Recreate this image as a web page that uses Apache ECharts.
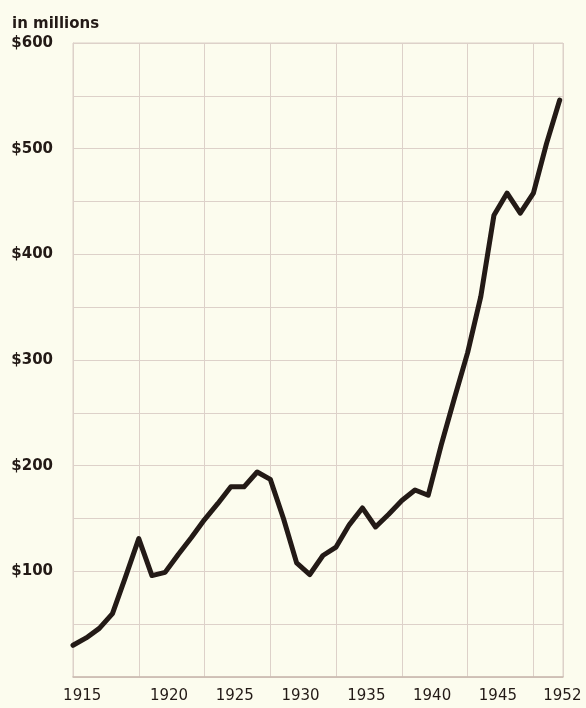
<!DOCTYPE html>
<html>
<head>
<meta charset="utf-8">
<script src="https://cdn.jsdelivr.net/npm/echarts@6/dist/echarts.min.js"></script>
<style>
  html, body { margin: 0; padding: 0; background: #fcfcee; }
  #chart { width: 586px; height: 708px; }
</style>
</head>
<body>
<div id="chart"></div>
<script>
'use strict';

// years on the x axis, one point per year
const years = [
  1915, 1916, 1917, 1918, 1919, 1920, 1921, 1922, 1923, 1924,
  1925, 1926, 1927, 1928, 1929, 1930, 1931, 1932, 1933, 1934,
  1935, 1936, 1937, 1938, 1939, 1940, 1941, 1942, 1943, 1944,
  1945, 1946, 1947, 1948, 1949, 1950, 1951, 1952
];
// dollars, in millions
const amounts = [
  30, 37, 46, 60, 95, 131, 96, 99, 116, 132,
  149, 164, 180, 180, 194, 187, 150, 108, 97, 115,
  123, 144, 160, 142, 154, 167, 177, 172, 220, 264,
  307, 360, 437, 458, 439, 458, 505, 546
];
const xTickLabels = ['1915', '1920', '1925', '1930', '1935', '1940', '1945', '1952'];
const yTickLabels = ['$100', '$200', '$300', '$400', '$500', '$600'];

const ink = '#231a16';
const gridColor = '#ddd1c9';

// the printed year labels sit off the grid lines: first nudged right,
// middle ones about 2.3 years right, the last one at the right edge
const xMax = 1952.25;
const labelPos = xTickLabels.map(function(t, i) {
  const y = Number(t);
  if (i === 0) return y + 0.7;
  if (i === xTickLabels.length - 1) return xMax - 0.05;
  return y + 2.3;
});

function yLabel(v) {
  if (v === 0 || v % 100 !== 0) return '';
  return yTickLabels[v / 100 - 1] || '';
}

const chart = echarts.init(document.getElementById('chart'));
chart.setOption({
  backgroundColor: '#fcfcee',
  animation: false,
  title: {
    text: 'in millions',
    left: 7,
    top: 12,
    textStyle: { fontFamily: 'DejaVu Sans', fontSize: 15, fontWeight: 'bold', color: ink }
  },
  grid: {
    left: 73, right: 23, top: 43, bottom: 31,
    show: true,
    borderColor: gridColor,
    borderWidth: 1,
    backgroundColor: 'transparent'
  },
  xAxis: {
    type: 'value',
    min: 1915,
    max: xMax,
    interval: 5,
    axisLine: { show: true, lineStyle: { color: '#c9b9ae', width: 1.5 } },
    axisTick: { show: false },
    splitLine: { show: true, lineStyle: { color: gridColor, width: 1 } },
    axisLabel: {
      customValues: labelPos,
      margin: 12,
      fontFamily: 'DejaVu Sans',
      fontSize: 15,
      color: ink,
      formatter: function(v) {
        for (let i = 0; i < labelPos.length; i++) {
          if (Math.abs(labelPos[i] - v) < 0.01) return xTickLabels[i];
        }
        return '';
      }
    }
  },
  yAxis: {
    type: 'value',
    min: 0,
    max: 600,
    interval: 50,
    axisLine: { show: true, lineStyle: { color: gridColor, width: 1 } },
    axisTick: { show: false },
    splitLine: { show: true, lineStyle: { color: gridColor, width: 1 } },
    axisLabel: {
      margin: 20,
      fontFamily: 'DejaVu Sans',
      fontSize: 15,
      fontWeight: 'bold',
      color: ink,
      formatter: yLabel
    }
  },
  series: [{
    type: 'line',
    data: years.map(function(y, i) { return [y, amounts[i]]; }),
    showSymbol: false,
    lineStyle: { color: ink, width: 5, join: 'round', cap: 'round' }
  }]
});
</script>
</body>
</html>
